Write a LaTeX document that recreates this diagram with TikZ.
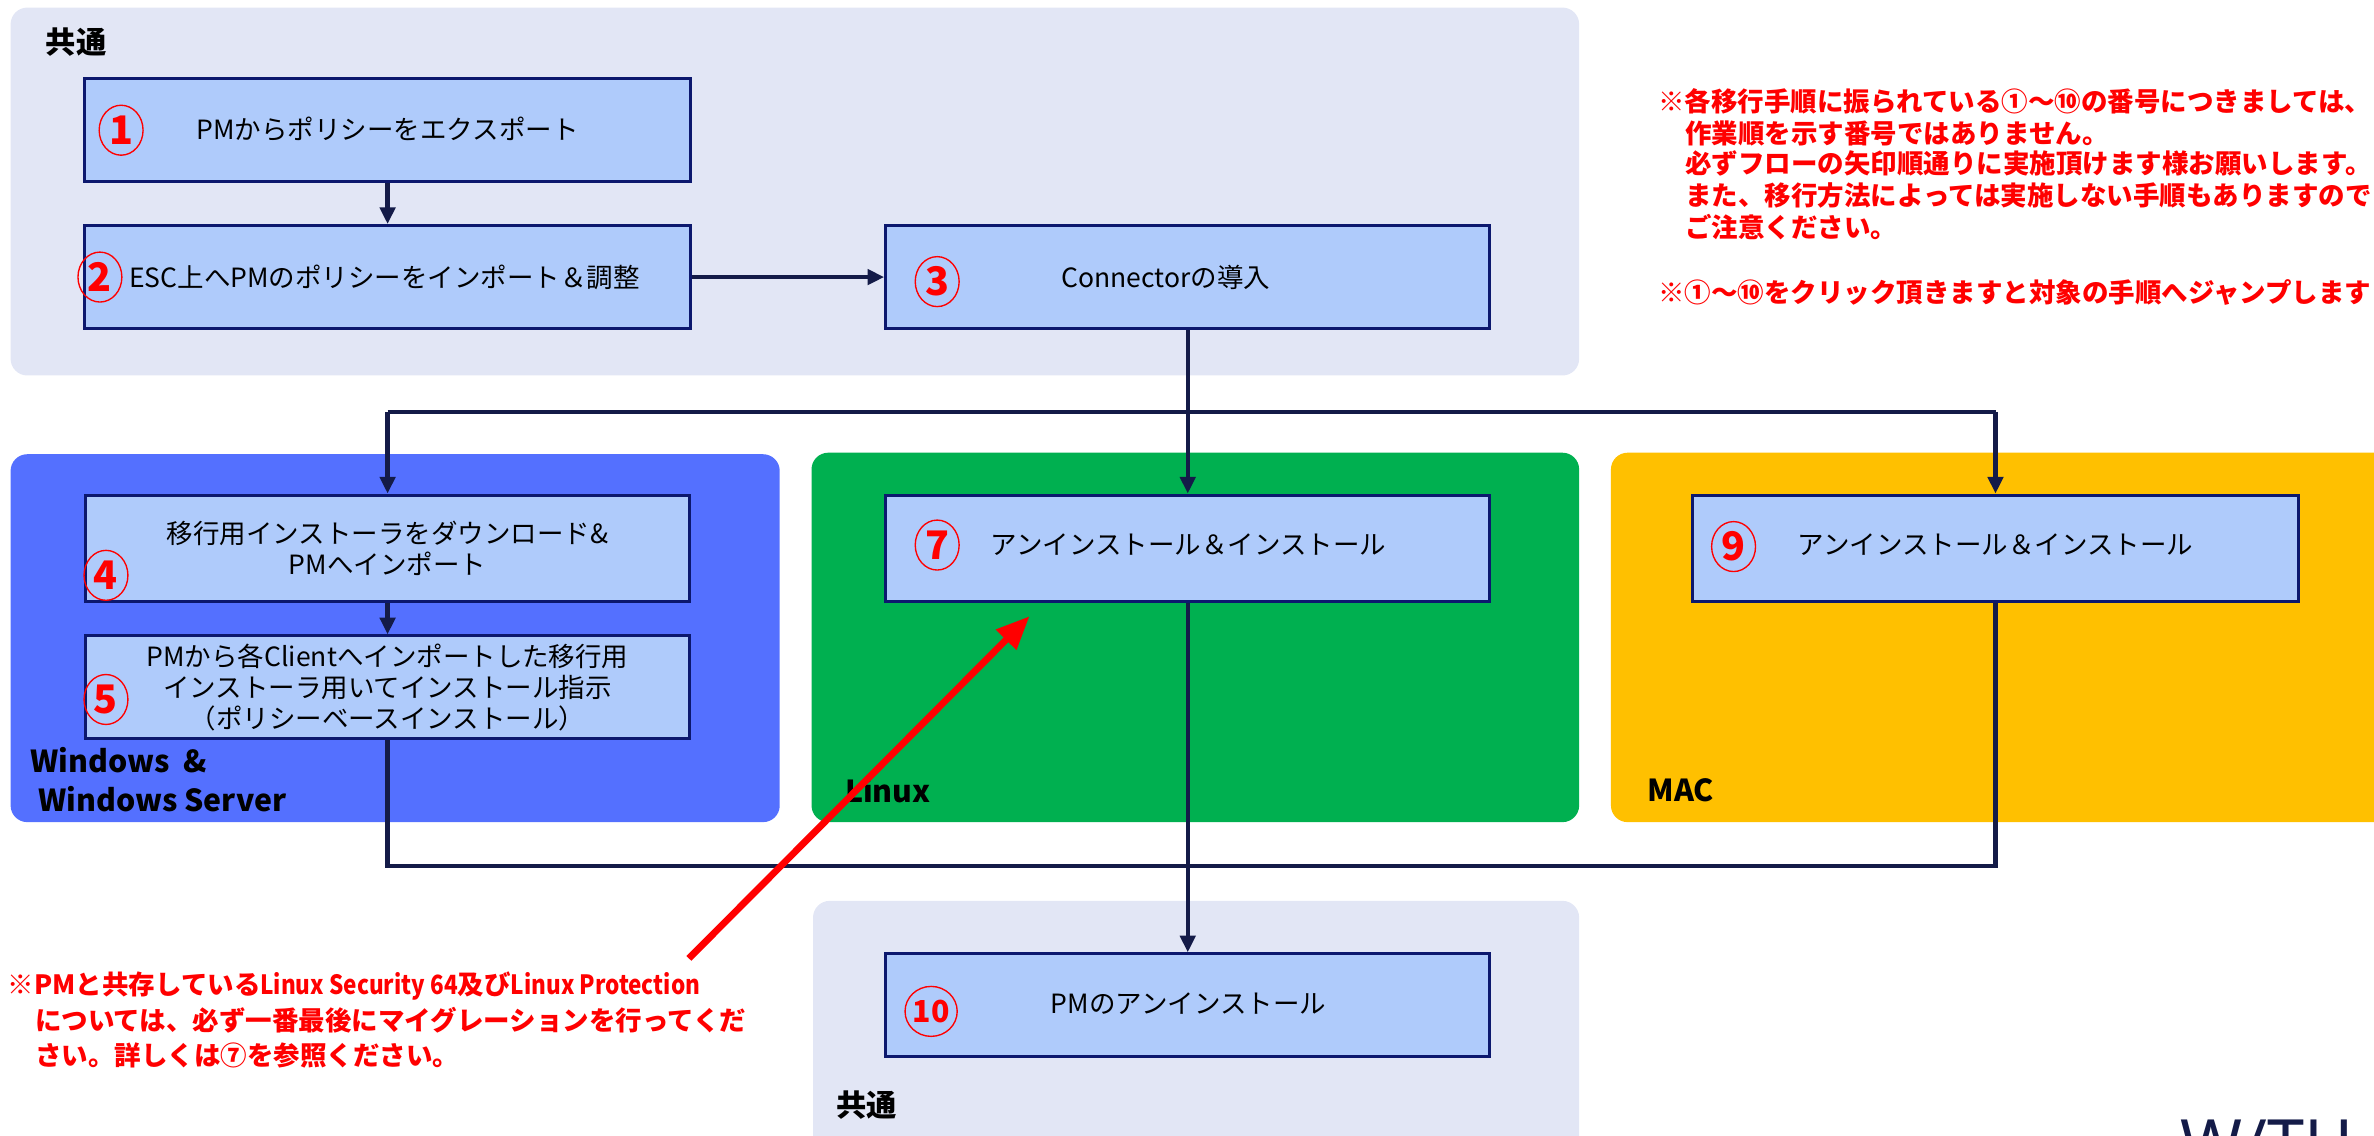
\documentclass[tikz,border=0pt]{standalone}
\usepackage{fontspec}
\setmainfont{Noto Sans CJK JP}
\newfontfamily\logofont{Noto Sans}
\usetikzlibrary{shapes.geometric,arrows.meta}
\definecolor{panelgray}{RGB}{226,230,245}
\definecolor{boxfill}{RGB}{175,203,251}
\definecolor{boxline}{RGB}{12,24,110}
\definecolor{connnavy}{RGB}{20,27,72}
\definecolor{winblue}{RGB}{84,112,255}
\definecolor{lingreen}{RGB}{0,176,80}
\definecolor{macgold}{RGB}{255,192,0}
\definecolor{notered}{RGB}{255,0,0}
\begin{document}
\begin{tikzpicture}[x=1pt,y=-1pt,
  panel/.style={rounded corners=11pt},
  stepbox/.style={draw=boxline,fill=boxfill,line width=2pt,rectangle,inner sep=0pt},
  boxtext/.style={text=black,font=\fontsize{17.5}{20.5}\selectfont,align=center,inner sep=0pt},
  numc/.style={ellipse,draw=notered,line width=0.9pt,inner sep=0pt,minimum width=29pt,minimum height=33pt,text=notered,font=\bfseries\fontsize{26}{26}\selectfont},
  numcs/.style={numc,font=\bfseries\fontsize{20}{20}\selectfont},
  conn/.style={draw=connnavy,line width=3pt},
  tip/.style={-{Triangle[length=11pt,width=10pt]}},
  redarrow/.style={draw=notered,line width=4.5pt,-{Triangle[length=22pt,width=18pt]}},
  grouplabel/.style={font=\bfseries\fontsize{20}{24}\selectfont,text=black,anchor=west,inner sep=0pt},
  rednote/.style={font=\bfseries\fontsize{17.5}{21}\selectfont,text=notered,anchor=west,inner sep=0pt}
]
\useasboundingbox (0,0) rectangle (1568,750);
\clip (0,0) rectangle (1568,750);

% panels
\fill[panel,panelgray] (7,5) rectangle (1043,248);
\fill[panel,winblue] (7,300) rectangle (515,543);
\fill[panel,lingreen] (536,299) rectangle (1043,543);
\fill[panel,macgold] (1064,299) rectangle (1600,543);
\fill[panel,panelgray] (537,595) rectangle (1043,780);

% group labels
\node[grouplabel] (lblTop) at (30,28) {共通};
\node[grouplabel] (lblWin1) at (20,502) {Windows ~\&};
\node[grouplabel] (lblWin2) at (25,528) {Windows Server};
\node[grouplabel] (lblLin) at (558,522) {Linux};
\node[grouplabel] (lblMac) at (1088,522) {MAC};
\node[grouplabel] (lblBot) at (552,730) {共通};

% boxes
\node[stepbox,minimum width=400pt,minimum height=68pt] (b1) at (256,86) {};
\node[stepbox,minimum width=400pt,minimum height=68pt] (b2) at (256,183) {};
\node[stepbox,minimum width=399pt,minimum height=68pt] (b3) at (784.5,183) {};
\node[stepbox,minimum width=399pt,minimum height=70pt] (b4) at (256,362) {};
\node[stepbox,minimum width=399pt,minimum height=68pt] (b5) at (256,454) {};
\node[stepbox,minimum width=399pt,minimum height=70pt] (b7) at (784.5,362) {};
\node[stepbox,minimum width=400pt,minimum height=70pt] (b9) at (1318,362) {};
\node[stepbox,minimum width=399pt,minimum height=68pt] (b10) at (784.5,664) {};

% box texts
\node[boxtext] (t1) at (256,85) {PMからポリシーをエクスポート};
\node[boxtext] (t2) at (254,183) {ESC上へPMのポリシーをインポート＆調整};
\node[boxtext] (t3) at (770,183) {Connectorの導入};
\node[boxtext] (t4) at (256,362) {移行用インストーラをダウンロード\&\\PMへインポート};
\node[boxtext] (t5) at (256,454) {PMから各Clientへインポートした移行用\\インストーラ用いてインストール指示\\（ポリシーベースインストール）};
\node[boxtext] (t7) at (785,360) {アンインストール＆インストール};
\node[boxtext] (t9) at (1318,360) {アンインストール＆インストール};
\node[boxtext] (t10) at (785,663) {PMのアンインストール};

% step numbers
\node[numc] (n1) at (80,86) {1};
\node[numc] (n2) at (66,183) {2};
\node[numc] (n3) at (619,186) {3};
\node[numc] (n4) at (70,380) {4};
\node[numc] (n5) at (70,462) {5};
\node[numc] (n7) at (619,360) {7};
\node[numc] (n9) at (1145,361) {9};
\node[numcs] (n10) at (615,668) {10};

% connectors
\coordinate (jl) at (256,272);
\coordinate (jr) at (1318,272);
\coordinate (jb) at (256,572);
\draw[conn,tip] (b1.south) -- (b2.north);
\draw[conn,tip] (b2.east) -- (b3.west);
\draw[conn,tip] (b3.south) -- (b7.north);
\draw[conn] (jl) -- (jr);
\draw[conn,tip] (jl) -- (b4.north);
\draw[conn,tip] (jr) -- (b9.north);
\draw[conn,tip] (b4.south) -- (b5.north);
\draw[conn] (b5.south) -- (jb) -| (b9.south);
\draw[conn,tip] (b7.south) -- (b10.north);

% red pointer arrow
\coordinate (ra) at (455,633);
\coordinate (rb) at (680,407);
\draw[redarrow] (ra) -- (rb);

% notes
\node[rednote] (r1) at (1095,67) {※各移行手順に振られている①～⑩の番号につきましては、};
\node[rednote] (r2) at (1113,88) {作業順を示す番号ではありません。};
\node[rednote] (r3) at (1113,108) {必ずフローの矢印順通りに実施頂けます様お願いします。};
\node[rednote] (r4) at (1113,129) {また、移行方法によっては実施しない手順もありますので};
\node[rednote] (r5) at (1113,150) {ご注意ください。};
\node[rednote] (r6) at (1095,193) {※①～⑩をクリック頂きますと対象の手順へジャンプします};

\node[rednote] (l1) at (5,651) {※PMと共存している\addfontfeatures{FakeStretch=0.85}Linux Security 64\normalfont\bfseries\fontsize{17.5}{21}\selectfont 及び\addfontfeatures{FakeStretch=0.85}Linux Protection};
\node[rednote] (l2) at (23,674) {については、必ず一番最後にマイグレーションを行ってくだ};
\node[rednote] (l3) at (23,697) {さい。詳しくは⑦を参照ください。};

% logo (cut off at bottom, as in the reference)
\node[anchor=base west,inner sep=0pt,text=connnavy,font=\logofont\bfseries\fontsize{44}{44}\selectfont] (logo) at (1440,771) {W/TH SECURE};
\end{tikzpicture}
\end{document}
